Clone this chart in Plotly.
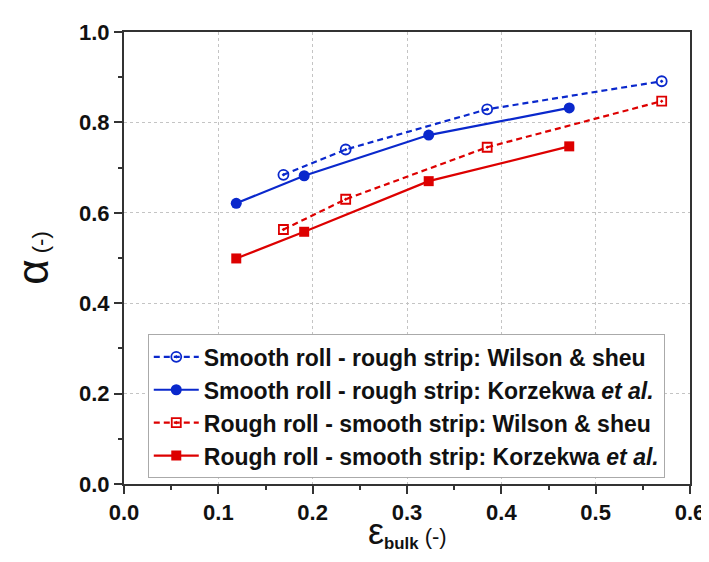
import plotly.graph_objects as go

# Data
x_smooth_wilson = [0.169, 0.235, 0.385, 0.570]
y_smooth_wilson = [0.684, 0.740, 0.829, 0.891]
x_smooth_korz = [0.119, 0.191, 0.323, 0.472]
y_smooth_korz = [0.621, 0.682, 0.772, 0.832]
x_rough_wilson = [0.169, 0.235, 0.385, 0.570]
y_rough_wilson = [0.563, 0.630, 0.745, 0.847]
x_rough_korz = [0.119, 0.191, 0.323, 0.472]
y_rough_korz = [0.499, 0.558, 0.670, 0.747]

names = [
    "Smooth roll - rough strip: Wilson &amp; sheu",
    "Smooth roll - rough strip: Korzekwa <i>et al.</i>",
    "Rough roll - smooth strip: Wilson &amp; sheu",
    "Rough roll - smooth strip: Korzekwa <i>et al.</i>",
]
x_title = "<span style='font-size:36px'>ε</span><sub><b>bulk</b></sub><span style='font-size:22px'> (-)</span>"
y_title = "<span style='font-size:44px'>α</span><span style='font-size:22px'> (-)</span>"

BLUE = "#0a28cc"
RED = "#dd0000"
FONT = "Liberation Sans, Arial, sans-serif"
DASH = "6px,4px"

fig = go.Figure()
fig.add_trace(go.Scatter(x=x_smooth_wilson, y=y_smooth_wilson, name=names[0], mode="lines+markers",
                         line=dict(color=BLUE, width=2.2, dash=DASH),
                         marker=dict(symbol="circle-open-dot", size=10, color=BLUE, line=dict(width=1.8, color=BLUE))))
fig.add_trace(go.Scatter(x=x_smooth_korz, y=y_smooth_korz, name=names[1], mode="lines+markers",
                         line=dict(color=BLUE, width=2.2),
                         marker=dict(symbol="circle", size=11, color=BLUE)))
fig.add_trace(go.Scatter(x=x_rough_wilson, y=y_rough_wilson, name=names[2], mode="lines+markers",
                         line=dict(color=RED, width=2.2, dash=DASH),
                         marker=dict(symbol="square-open-dot", size=9, color=RED, line=dict(width=1.8, color=RED))))
fig.add_trace(go.Scatter(x=x_rough_korz, y=y_rough_korz, name=names[3], mode="lines+markers",
                         line=dict(color=RED, width=2.2),
                         marker=dict(symbol="square", size=10, color=RED)))

axis_common = dict(
    showline=True, linecolor="#333333", linewidth=2, mirror=True,
    ticks="outside", ticklen=8, tickwidth=2, tickcolor="#333333",
    showgrid=True, gridcolor="#c4c4c4", griddash="dot", gridwidth=1,
    zeroline=False,
    tickfont=dict(family=FONT, size=22, color="#111111", weight="bold"),
    minor=dict(ticks="outside", ticklen=4, tickwidth=2, tickcolor="#333333", showgrid=False),
)

fig.update_xaxes(range=[0, 0.6], dtick=0.1, tickformat=".1f", minor_dtick=0.05, **axis_common)
fig.update_yaxes(range=[0, 1.0], dtick=0.2, tickformat=".1f", minor_dtick=0.1,
                 title=dict(text=y_title, font=dict(family=FONT, size=26, color="#111111"), standoff=26),
                 **axis_common)

fig.add_annotation(text=x_title, xref="paper", yref="paper", x=0.5, y=-0.158,
                   xanchor="center", yanchor="bottom", showarrow=False,
                   font=dict(family=FONT, size=24, color="#111111"))

fig.update_layout(
    width=709, height=562,
    margin=dict(l=116, r=22, t=20, b=86),
    plot_bgcolor="white", paper_bgcolor="white",
    font=dict(family=FONT, color="#111111"),
    legend=dict(x=0.042, y=0.331, xanchor="left", yanchor="top",
                bgcolor="white", bordercolor="#aaaaaa", borderwidth=1,
                font=dict(family=FONT, size=23, color="#111111", weight="bold"),
                itemwidth=45, tracegroupgap=0),
    showlegend=True,
)

fig.write_html("out.html")
